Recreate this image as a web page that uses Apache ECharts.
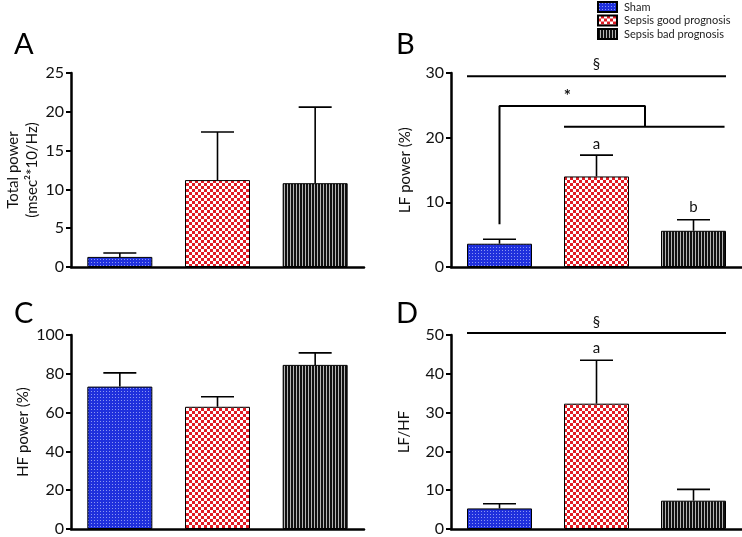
<!DOCTYPE html>
<html><head><meta charset="utf-8">
<script src="https://cdn.jsdelivr.net/npm/echarts@6/dist/echarts.min.js"></script>
<style>html,body{margin:0;padding:0;background:#fff}#c{width:742px;height:537px}</style>
</head><body><div id="c"></div>
<script>
const categories = ['Sham', 'Sepsis good prognosis', 'Sepsis bad prognosis'];
// Panel A: Total power
const totalPowerMean = [1.3, 11.2, 10.8];
const totalPowerUpper = [1.8, 17.4, 20.6];
// Panel B: LF power (%)
const lfMean = [3.6, 14.0, 5.6];
const lfUpper = [4.3, 17.3, 7.3];
// Panel C: HF power (%)
const hfMean = [73.4, 63.0, 84.6];
const hfUpper = [80.5, 68.2, 90.8];
// Panel D: LF/HF
const lfhfMean = [5.3, 32.3, 7.3];
const lfhfUpper = [6.5, 43.5, 10.2];
// Significance annotations (x in category units 0..3, y in data units)
const bSectionLine = [[0.165, 29.5], [2.835, 29.5]];
const bBracket = [[0.5, 6.6], [0.5, 24.9], [2.0, 24.9], [2.0, 21.7]];
const bLowerLine = [[1.165, 21.7], [2.82, 21.7]];
const bTexts = [[1.5, 31.4, '§'], [1.2, 26.3, '*'], [1.5, 19.0, 'a'], [2.5, 9.2, 'b']];
const dSectionLine = [[0.165, 50.5], [2.835, 50.5]];
const dTexts = [[1.5, 53.4, '§'], [1.5, 46.6, 'a']];
const panelLetters = ['A', 'B', 'C', 'D'];

function pat(w, h, draw) {
  const c = document.createElement('canvas'); c.width = w; c.height = h;
  const g = c.getContext('2d'); draw(g); return { image: c, repeat: 'repeat' };
}
const patterns = [
  pat(3, 3, g => { g.fillStyle = '#1f30dc'; g.fillRect(0, 0, 3, 3); g.fillStyle = '#8a96f2'; g.fillRect(1, 1, 1, 1); }),
  pat(6, 6, g => { g.fillStyle = '#e01c24'; g.fillRect(0, 0, 6, 6); g.fillStyle = '#ffffff'; g.fillRect(0, 0, 3, 3); g.fillRect(3, 3, 3, 3); }),
  pat(3, 1, g => { g.fillStyle = '#b4b4b4'; g.fillRect(0, 0, 3, 1); g.fillStyle = '#111111'; g.fillRect(0, 0, 2, 1); })
];

const FONT = 'Lato';
const grids = [
  { left: 71, top: 73, width: 293, height: 194 },
  { left: 451, top: 73, width: 291, height: 194 },
  { left: 71, top: 335, width: 293, height: 195 },
  { left: 451, top: 335, width: 291, height: 195 }
];
const yCfg = [
  { max: 25, interval: 5, name: 'Total power\n(msec\u00B2*10/Hz)', gap: 27 },
  { max: 30, interval: 10, name: 'LF power (%)', gap: 36 },
  { max: 100, interval: 20, name: 'HF power (%)', gap: 36 },
  { max: 50, interval: 10, name: 'LF/HF', gap: 37 }
];
const means = [totalPowerMean, lfMean, hfMean, lfhfMean];
const uppers = [totalPowerUpper, lfUpper, hfUpper, lfhfUpper];

const xAxis = [], yAxis = [], series = [];
grids.forEach((g, i) => {
  xAxis.push({
    type: 'category', gridIndex: i, data: categories,
    axisLine: { lineStyle: { color: '#000', width: 2.5 } },
    axisTick: { alignWithLabel: true, length: 5, lineStyle: { color: '#000', width: 2 } },
    axisLabel: { show: false }, splitLine: { show: false }
  });
  yAxis.push({
    type: 'value', gridIndex: i, min: 0, max: yCfg[i].max, interval: yCfg[i].interval,
    name: yCfg[i].name, nameLocation: 'middle', nameGap: yCfg[i].gap, nameRotate: 90,
    nameTextStyle: { fontFamily: FONT, fontSize: 15, color: '#111', lineHeight: 19 },
    axisLine: { show: true, lineStyle: { color: '#000', width: 2.5 } },
    axisTick: { show: true, length: 5, lineStyle: { color: '#000', width: 2 } },
    axisLabel: { fontFamily: FONT, fontSize: 16, color: '#111', margin: 7 },
    splitLine: { show: false }
  });
});
// hidden value x axes for annotations
grids.forEach((g, i) => {
  xAxis.push({ type: 'value', gridIndex: i, min: 0, max: 3, show: false });
});

grids.forEach((g, i) => {
  categories.forEach((c, k) => {
    const d = categories.map((_, j) => j === k ? means[i][j] : '-');
    series.push({
      type: 'bar', name: c, xAxisIndex: i, yAxisIndex: i, data: d,
      barWidth: 65, barGap: '-100%',
      itemStyle: { color: patterns[k], borderColor: '#000', borderWidth: 1 },
      emphasis: { disabled: true }, silent: true
    });
  });
  series.push({
    type: 'custom', xAxisIndex: i, yAxisIndex: i, z: 5, silent: true,
    data: categories.map((_, j) => [j, means[i][j], uppers[i][j]]),
    encode: { x: 0, y: [1, 2] },
    renderItem: (params, api) => {
      const x = api.value(0);
      const p0 = api.coord([x, api.value(1)]);
      const p1 = api.coord([x, api.value(2)]);
      const half = 16.5;
      const st = { stroke: '#000', lineWidth: 1.6 };
      return { type: 'group', children: [
        { type: 'line', shape: { x1: p0[0], y1: p0[1], x2: p1[0], y2: p1[1] }, style: st },
        { type: 'line', shape: { x1: p1[0] - half, y1: p1[1], x2: p1[0] + half, y2: p1[1] }, style: st }
      ] };
    }
  });
});

function annLine(axisIdx, data) {
  return { type: 'line', xAxisIndex: 4 + axisIdx, yAxisIndex: axisIdx, data: data, symbol: 'none',
    clip: false, silent: true, z: 6, lineStyle: { color: '#000', width: 2 } };
}
function annText(axisIdx, data) {
  return { type: 'custom', xAxisIndex: 4 + axisIdx, yAxisIndex: axisIdx, clip: false, silent: true, z: 7,
    data: data, encode: { x: 0, y: 1 },
    renderItem: (params, api) => {
      const p = api.coord([api.value(0), api.value(1)]);
      const t = data[params.dataIndex][2];
      const fs = t === '*' ? 17 : 15;
      return { type: 'text', x: p[0], y: p[1], style: { text: t, fontFamily: FONT, fontSize: fs, fontWeight: t === '*' ? 'bold' : 'normal', fill: '#111', align: 'center', verticalAlign: 'middle' } };
    } };
}
series.push(annLine(1, bSectionLine), annLine(1, bBracket), annLine(1, bLowerLine), annText(1, bTexts));
series.push(annLine(3, dSectionLine), annText(3, dTexts));

const letterPos = [[14, 30], [396, 30], [14, 299], [396, 299]];
const title = panelLetters.map((t, i) => ({
  text: t, left: letterPos[i][0], top: letterPos[i][1], padding: 0,
  textStyle: { fontFamily: FONT, fontSize: 29, fontWeight: 'normal', color: '#000' }
}));

const chart = echarts.init(document.getElementById('c'), null, { renderer: 'canvas' });
chart.setOption({
  animation: false,
  backgroundColor: '#fff',
  title: title,
  legend: {
    data: categories, orient: 'vertical', left: 597, top: 0, itemGap: 1.5, padding: [1, 0, 0, 0],
    itemWidth: 19, itemHeight: 10, icon: 'rect', selectedMode: false,
    textStyle: { fontFamily: FONT, fontSize: 11, color: '#222', padding: [0, 0, 0, 2] }
  },
  grid: grids,
  xAxis: xAxis,
  yAxis: yAxis,
  series: series
});
</script>
</body></html>
